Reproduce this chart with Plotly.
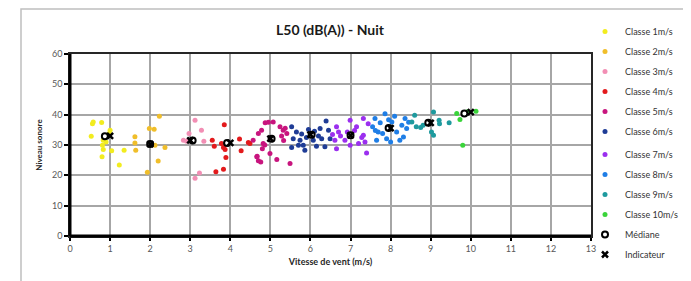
import plotly.graph_objects as go

classes = ["Classe 1m/s", "Classe 2m/s", "Classe 3m/s", "Classe 4m/s", "Classe 5m/s",
           "Classe 6m/s", "Classe 7m/s", "Classe 8m/s", "Classe 9m/s", "Classe 10m/s"]
colors = ["#F2EC1F", "#F0BE2A", "#F28EB4", "#E31A1C", "#C8157E",
          "#1F3C96", "#9B2FEF", "#1F7EE6", "#1E9A9E", "#3AD43A"]

c1_x = [0.56, 0.58, 0.79, 0.53, 1.00, 0.98, 0.83, 0.81, 0.83, 0.80, 1.04, 1.23, 1.35, 0.90]
c1_y = [37.0, 37.6, 37.4, 32.9, 34.9, 33.8, 31.6, 29.9, 28.5, 26.1, 28.1, 23.4, 28.3, 31.0]
c2_x = [1.62, 1.62, 1.64, 1.98, 2.10, 2.23, 2.12, 2.37, 2.20, 1.93]
c2_y = [32.7, 30.7, 28.3, 35.4, 35.2, 39.5, 29.9, 29.2, 24.7, 21.0]
c3_x = [3.12, 3.28, 2.97, 2.83, 2.91, 3.34, 3.12, 3.23]
c3_y = [38.2, 34.9, 33.8, 31.6, 31.2, 31.2, 19.0, 20.8]
c4_x = [3.85, 3.55, 3.60, 3.78, 3.83, 3.87, 3.89, 3.83, 3.64, 4.23, 4.27, 4.45, 4.49]
c4_y = [36.7, 31.6, 29.6, 30.5, 29.2, 28.5, 25.9, 22.0, 21.2, 32.0, 28.1, 30.8, 30.5]
c5_x = [4.57, 4.70, 4.78, 4.87, 4.95, 5.07, 4.82, 4.86, 4.80, 4.67, 4.76, 4.99, 5.16,
        5.24, 5.32, 5.41, 5.49, 5.37, 4.66, 4.70, 5.28, 5.33]
c5_y = [31.6, 33.8, 34.9, 37.3, 37.5, 37.6, 30.5, 30.0, 28.8, 26.3, 24.4, 27.2, 25.2,
        36.0, 34.9, 33.8, 23.9, 35.5, 26.1, 24.8, 33.0, 31.5]
c6_x = [5.53, 5.53, 5.65, 5.74, 5.82, 5.86, 5.95, 6.07, 6.15, 6.28, 6.36, 6.45, 6.39,
        6.49, 5.78, 5.70, 6.24, 5.57, 5.90, 6.10, 6.20]
c6_y = [36.0, 29.2, 34.3, 31.6, 29.9, 28.3, 35.1, 31.6, 29.6, 32.1, 29.4, 34.9, 37.9,
        32.1, 33.6, 29.9, 35.4, 32.1, 32.5, 34.5, 33.0]
c7_x = [6.65, 6.70, 6.61, 6.65, 6.75, 6.99, 6.99, 7.15, 7.32, 7.36, 7.40, 7.44, 7.32,
        7.28, 6.92, 6.86, 7.10, 7.20, 6.55]
c7_y = [36.0, 34.3, 31.6, 28.8, 33.0, 38.2, 29.9, 36.0, 38.7, 31.0, 27.4, 37.0, 33.2,
        32.5, 34.3, 31.6, 34.8, 30.5, 33.5]
c8_x = [7.61, 7.65, 7.74, 7.86, 7.90, 8.03, 8.15, 8.23, 8.36, 8.40, 8.32, 7.69, 7.62,
        8.10, 7.80, 8.00, 8.28, 7.55, 8.45, 7.95]
c8_y = [38.7, 31.6, 37.3, 40.3, 32.1, 37.6, 34.3, 31.6, 38.7, 35.4, 32.6, 34.3, 34.8,
        39.5, 33.8, 31.0, 36.5, 36.0, 37.5, 38.3]
c9_x = [9.07, 8.60, 8.53, 8.64, 8.81, 9.02, 9.07, 9.21, 9.22, 9.46, 8.75]
c9_y = [40.9, 39.8, 37.6, 36.0, 36.5, 34.3, 33.2, 38.2, 37.0, 37.3, 35.8]
c10_x = [9.65, 9.73, 10.13, 9.80, 9.92]
c10_y = [40.4, 38.4, 41.1, 29.9, 41.0]

series_x = [c1_x, c2_x, c3_x, c4_x, c5_x, c6_x, c7_x, c8_x, c9_x, c10_x]
series_y = [c1_y, c2_y, c3_y, c4_y, c5_y, c6_y, c7_y, c8_y, c9_y, c10_y]

mediane_x = [0.87, 2.00, 3.06, 3.92, 5.03, 6.03, 7.00, 7.95, 8.94, 9.84]
mediane_y = [32.9, 30.3, 31.5, 30.7, 32.1, 33.4, 33.2, 35.6, 37.3, 40.4]
indic_x = [1.00, 2.00, 3.00, 4.00, 5.00, 6.00, 7.00, 8.00, 9.00, 10.00]
indic_y = [33.0, 30.3, 31.5, 30.7, 32.1, 33.4, 33.2, 35.6, 37.3, 40.8]

x_ticks = list(range(0, 14))
y_ticks = [0, 10, 20, 30, 40, 50, 60]

FONT = "Lato"
W, H = 683, 273          # page body has an 8px margin
L, T, R, B = 62, 46, 100, 45
PW, PH = W - L - R, H - T - B

fig = go.Figure()
for i, name in enumerate(classes):
    fig.add_trace(go.Scatter(x=series_x[i], y=series_y[i], mode="markers", name=name,
                             legendgroup=name, legend="legend" if i < 6 else "legend2",
                             marker=dict(color=colors[i], size=5)))
fig.add_trace(go.Scatter(x=mediane_x, y=mediane_y, mode="markers", name="Médiane",
                         legendgroup="med", legend="legend2",
                         marker=dict(symbol="circle", color="white", size=6,
                                     line=dict(color="black", width=2))))
fig.add_trace(go.Scatter(x=indic_x, y=indic_y, mode="markers", name="Indicateur",
                         legendgroup="ind", legend="legend2",
                         marker=dict(symbol="x-thin", color="black", size=6,
                                     line=dict(color="black", width=2.5))))

leg_common = dict(x=1.0 - 6 / PW, xanchor="left", yanchor="top",
                  font=dict(family=FONT, size=9, color="#333333"),
                  tracegroupgap=1, itemwidth=30, bgcolor="rgba(0,0,0,0)")

fig.update_layout(
    width=W, height=H,
    margin=dict(l=L, r=R, t=T, b=B, autoexpand=False),
    paper_bgcolor="white", plot_bgcolor="white",
    font=dict(family=FONT, color="#404040", size=9),
    title=dict(text="<b>L50 (dB(A)) - Nuit</b>", x=322/W, xanchor="center",
               y=1-22/H, yanchor="middle",
               font=dict(family=FONT, size=14, color="#1a1a1a")),
    showlegend=True,
    legend=dict(y=(T + PH - 9) / PH, **leg_common),
    legend2=dict(y=(T + PH - 132) / PH, **leg_common),
    shapes=[
        dict(type="rect", xref="paper", yref="paper", x0=(13-L)/PW, x1=(680-L)/PW,
             y0=-0.35, y1=(T+PH-1)/PH, line=dict(color="#BFBFBF", width=1.5), layer="below"),
        dict(type="line", xref="paper", yref="paper", x0=0, x1=0, y0=0, y1=1,
             line=dict(color="black", width=3)),
        dict(type="line", xref="paper", yref="paper", x0=0, x1=1, y0=0, y1=0,
             line=dict(color="black", width=3)),
    ],
)
fig.update_xaxes(range=[0, 13], tickvals=x_ticks, showgrid=True, gridcolor="#A6A6A6",
                 gridwidth=2, showline=True, linecolor="#262626", linewidth=1.5, mirror=True,
                 zeroline=False, ticks="outside", ticklen=3, tickwidth=2, tickcolor="black",
                 automargin=False,
                 tickfont=dict(size=9, color="#595959"),
                 title=dict(text="<b>Vitesse de vent (m/s)</b>", standoff=6,
                            font=dict(size=9, color="#262626")))
fig.update_yaxes(range=[0, 60], tickvals=y_ticks, showgrid=True, gridcolor="#A6A6A6",
                 gridwidth=2, showline=True, linecolor="#262626", linewidth=1.5, mirror=True,
                 zeroline=False, ticks="outside", ticklen=4, tickwidth=2, tickcolor="black",
                 automargin=False,
                 tickfont=dict(size=9, color="#595959"),
                 title=dict(text="<b>Niveau sonore</b>", standoff=8,
                            font=dict(size=8, color="#262626")))

fig.write_html("out.html")
